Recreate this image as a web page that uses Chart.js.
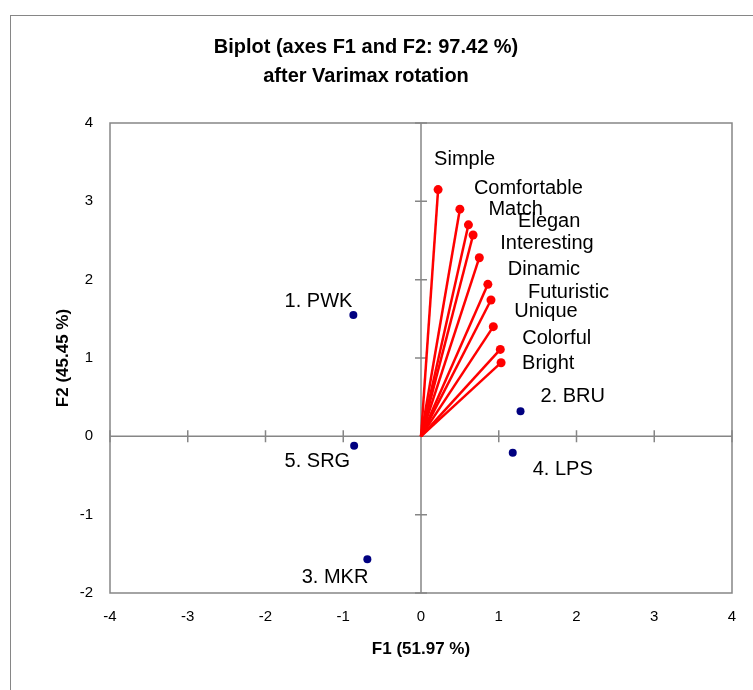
<!DOCTYPE html>
<html>
<head>
<meta charset="utf-8">
<title>Biplot</title>
<script src="https://cdn.jsdelivr.net/npm/chart.js@4.4.1/dist/chart.umd.min.js"></script>
<style>
	html, body { margin: 0; padding: 0; background: #fff; }
</style>
</head>
<body>
<canvas id="myChart" width="753" height="690"></canvas>
<script>
// variables (loadings after Varimax rotation)
const variables = ['Simple', 'Comfortable', 'Match', 'Elegan', 'Interesting', 'Dinamic', 'Futuristic', 'Unique', 'Colorful', 'Bright'];
const varF1 = [0.22, 0.50, 0.61, 0.67, 0.75, 0.86, 0.90, 0.93, 1.02, 1.03];
const varF2 = [3.15, 2.90, 2.70, 2.57, 2.28, 1.94, 1.74, 1.40, 1.11, 0.94];

// observations
const observations = ['1. PWK', '2. BRU', '3. MKR', '4. LPS', '5. SRG'];
const obsF1 = [-0.87, 1.28, -0.69, 1.18, -0.86];
const obsF2 = [1.55, 0.32, -1.57, -0.21, -0.12];

// label placement relative to the point: [dx, dy, align]
const varLabelPos = [[-4, -30, 'left'], [14, -21, 'left'], [20, -15, 'left'], [45, -14, 'left'], [21, -14, 'left'],
	[20, -15, 'left'], [37, -8, 'left'], [21, -15, 'left'], [22, -11, 'left'], [21, 1, 'left']];
const obsLabelPos = [[-1, -13, 'right'], [20, -15, 'left'], [1, 18, 'right'], [20, 17, 'left'], [-4, 16, 'right']];

const FONT = '"Liberation Sans", Arial, sans-serif';
const GREY = '#868686';

const rays = variables.map((name, i) => ({
	label: name,
	data: [{ x: 0, y: 0 }, { x: varF1[i], y: varF2[i] }],
	showLine: true,
	borderColor: '#ff0000',
	backgroundColor: '#ff0000',
	borderWidth: 2.5,
	pointRadius: ctx => ctx.dataIndex === 0 ? 0 : 4.5,
	pointBorderWidth: 0
}));

const obsSet = {
	label: 'Observations',
	data: observations.map((o, i) => ({ x: obsF1[i], y: obsF2[i] })),
	showLine: false,
	backgroundColor: '#000080',
	borderColor: '#000080',
	pointRadius: 4,
	pointBorderWidth: 0
};

//-----------------Plugins-------------------//
const framePlugin = {
	id: 'frame',
	beforeDraw(chart) {
		const c = chart.ctx;
		c.save();
		c.fillStyle = '#fff';
		c.fillRect(0, 0, chart.width, chart.height);
		c.strokeStyle = GREY;
		c.lineWidth = 1;
		c.strokeRect(10.5, 15.5, 900, 900);
		c.restore();
	},
	beforeDatasetsDraw(chart) {
		const c = chart.ctx;
		const a = chart.chartArea;
		const xs = chart.scales.x, ys = chart.scales.y;
		const x0 = xs.getPixelForValue(0), y0 = ys.getPixelForValue(0);
		c.save();
		c.strokeStyle = GREY;
		c.lineWidth = 1.5;
		c.strokeRect(a.left, a.top, a.right - a.left, a.bottom - a.top);
		c.beginPath();
		c.moveTo(a.left, y0); c.lineTo(a.right, y0);
		c.moveTo(x0, a.top); c.lineTo(x0, a.bottom);
		xs.ticks.forEach(t => {
			const px = xs.getPixelForValue(t.value);
			c.moveTo(px, y0 - 6); c.lineTo(px, y0 + 6);
		});
		ys.ticks.forEach(t => {
			const py = ys.getPixelForValue(t.value);
			c.moveTo(x0 - 6, py); c.lineTo(x0 + 6, py);
		});
		c.stroke();
		c.restore();
	},
	afterDatasetsDraw(chart) {
		const c = chart.ctx;
		const xs = chart.scales.x, ys = chart.scales.y;
		c.save();
		c.fillStyle = '#000';
		c.font = '20px ' + FONT;
		c.textBaseline = 'middle';
		const put = (txt, x, y, pos) => {
			c.textAlign = pos[2];
			c.fillText(txt, xs.getPixelForValue(x) + pos[0], ys.getPixelForValue(y) + pos[1]);
		};
		variables.forEach((v, i) => put(v, varF1[i], varF2[i], varLabelPos[i]));
		observations.forEach((o, i) => put(o, obsF1[i], obsF2[i], obsLabelPos[i]));
		c.restore();
	}
};
//-----------------Plugins-------------------//

const ctx = document.getElementById('myChart');
const myChart = new Chart(ctx, {
	type: 'scatter',
	data: { datasets: [...rays, obsSet] },
	options: {
		responsive: false,
		animation: false,
		layout: { padding: { left: 0, right: 21, top: 0, bottom: 0 } },
		plugins: {
			legend: { display: false },
			tooltip: { enabled: false },
			title: {
				display: true,
				text: ['Biplot (axes F1 and F2: 97.42 %)', 'after Varimax rotation'],
				color: '#000',
				font: { family: FONT, size: 20, weight: 'bold', lineHeight: 1.45 },
				padding: { top: 33, bottom: 32 }
			}
		},
		scales: {
			x: {
				min: -4, max: 4,
				ticks: { stepSize: 1, color: '#000', padding: 15, font: { family: FONT, size: 15 } },
				grid: { display: false, drawTicks: false },
				border: { display: false },
				title: {
					display: true, text: 'F1 (51.97 %)', color: '#000',
					font: { family: FONT, size: 17, weight: 'bold' },
					padding: { top: 0, bottom: 30 }
				},
				afterFit(scale) { scale.height = 97; }
			},
			y: {
				min: -2, max: 4,
				ticks: { stepSize: 1, color: '#000', padding: 17, font: { family: FONT, size: 15 } },
				grid: { display: false, drawTicks: false },
				border: { display: false },
				title: {
					display: true, text: 'F2 (45.45 %)', color: '#000',
					font: { family: FONT, size: 17, weight: 'bold' },
					padding: { top: 53, bottom: 0 }
				},
				afterFit(scale) { scale.width = 110; }
			}
		}
	},
	plugins: [framePlugin]
});
</script>
</body>
</html>
